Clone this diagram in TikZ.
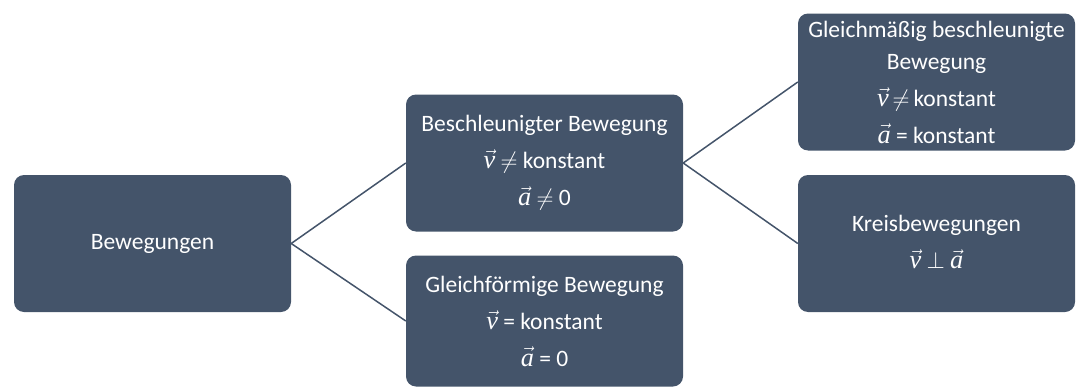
\RequirePackage{fix-cm}
\documentclass[tikz,border=0pt]{standalone}
\usepackage{fontspec}
\setmainfont{Carlito}
\newfontfamily\mitf{Liberation Serif}[Scale=1.12]
\newcommand\vv[1]{\ensuremath{\vec{\mbox{\mitf\itshape #1}}}}
\definecolor{boxc}{HTML}{44546A}
\begin{document}
\begin{tikzpicture}[x=1pt,y=-1pt,
  box/.style={rectangle, rounded corners=10pt, fill=boxc, text=white,
    minimum width=277pt, minimum height=137pt, align=center, inner sep=0pt,
    font=\fontsize{23.5}{32}\selectfont},
  conn/.style={draw=boxc, line width=1.5pt}]
\useasboundingbox (0,0) rectangle (1077,388);
\node[box] (bew) at (152.5,243.5) {Bewegungen};
\node[box] (bes) at (544.5,163) {Beschleunigter Bewegung\\[5pt] \vv{v} $\neq$ konstant\\[5pt] \vv{a} $\neq$ 0};
\node[box, minimum height=131pt] (glf) at (544.5,321) {Gleichförmige Bewegung\\[5pt] \vv{v} = konstant\\[5pt] \vv{a} = 0};
\node[box] (gmb) at (936.5,82) {Gleichmäßig beschleunigte\\ Bewegung\\[5pt] \vv{v}\,$\neq$\,konstant\\[5pt] \vv{a} = konstant};
\node[box] (krs) at (936.5,243.5) {\raisebox{5pt}{\begin{tabular}{@{}c@{}}Kreisbewegungen\\[5pt] \vv{v} $\perp$ \vv{a}\end{tabular}}};
\draw[conn] (bew.east) -- (bes.west);
\draw[conn] (bew.east) -- (glf.west);
\draw[conn] (bes.east) -- (gmb.west);
\draw[conn] (bes.east) -- (krs.west);
\end{tikzpicture}
\end{document}
